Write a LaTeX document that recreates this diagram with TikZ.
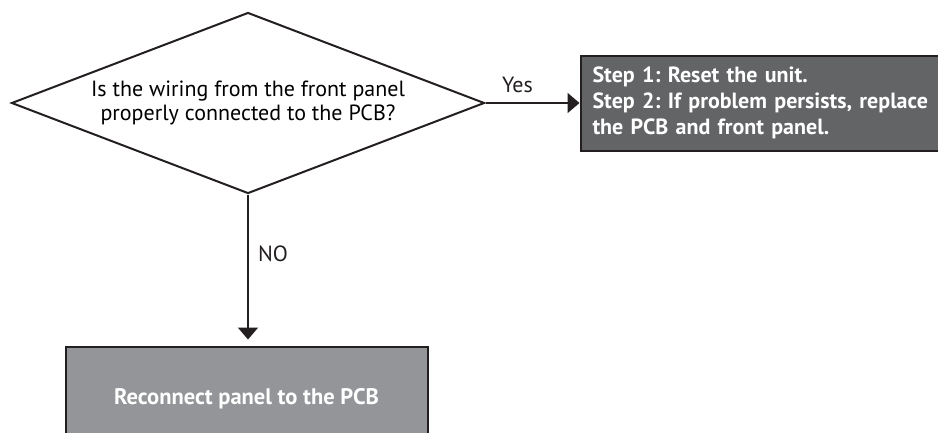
\documentclass[tikz,border=0pt]{standalone}
\usepackage{fontspec}
\setmainfont{PT Sans}
\usetikzlibrary{arrows.meta,shapes.geometric,positioning}
\definecolor{PanelInk}{HTML}{231F20}
\definecolor{PanelDark}{HTML}{636466}
\definecolor{PanelGrey}{HTML}{939598}

\begin{document}
\frenchspacing
\begin{tikzpicture}[x=1pt,y=-1pt,
        query/.style={diamond,draw=PanelInk,line width=2pt,fill=white,
                      shape aspect=2.61,minimum width=473pt,minimum height=181pt,
                      inner sep=0pt,align=center,font=\fontsize{22}{24}\selectfont},
        fixbox/.style={draw=PanelInk,line width=2pt,fill=PanelDark,text=white,
                       font=\bfseries\fontsize{22}{26}\selectfont,align=left,
                       text width=380pt,inner xsep=12pt,inner ysep=8pt,minimum height=95pt},
        redo/.style={draw=PanelInk,line width=2pt,fill=PanelGrey,text=white,
                     font=\bfseries\fontsize{22.5}{26}\selectfont,align=center,
                     minimum width=362pt,minimum height=104pt},
        lbl/.style={font=\fontsize{22}{24}\selectfont,inner sep=0pt},
        arr/.style={-{Triangle[width=20pt,length=12pt]},PanelInk,line width=2pt}
      ]
        \useasboundingbox (0,0) rectangle (938,432);
        \clip (0,0) rectangle (938,432);
        \node[query] (Q) at (248,103) {Is the wiring from the front panel\\properly connected to the PCB?};
        \node[fixbox,right=94pt of Q.east,anchor=west] (S) {Step 1: Reset the unit.\\Step 2: If problem persists, replace\\the PCB and front panel.};
        \node[redo,below=151pt of Q.south,anchor=north,xshift=-1.5pt] (R) {Reconnect panel to the PCB};
        \draw[arr] (Q.east) -- node[lbl,pos=0.34,above=9pt] {Yes} (S.west);
        \draw[arr,shorten >=6pt] (Q.south) -- node[lbl,pos=0.39,right=9pt] {NO} (Q.south |- R.north);
      \end{tikzpicture}
\end{document}
